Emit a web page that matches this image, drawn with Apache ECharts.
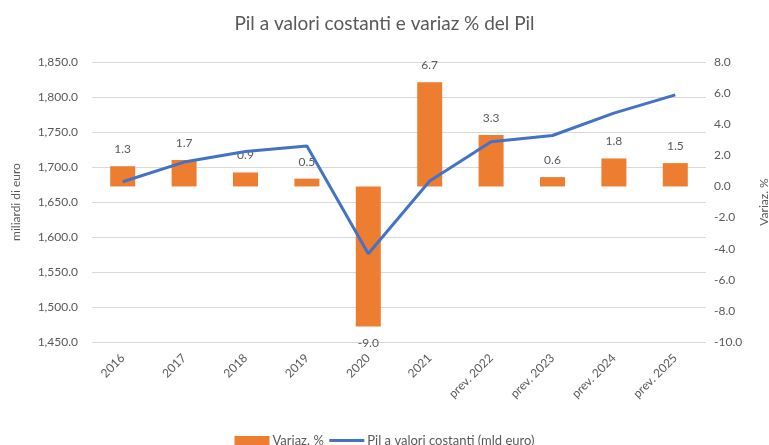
<!DOCTYPE html>
<html>
<head>
<meta charset="utf-8">
<script src="https://cdn.jsdelivr.net/npm/echarts@6/dist/echarts.min.js"></script>
<style>
  html, body { margin: 0; padding: 0; background: #fff; }
  #chart { width: 769px; height: 445px; }
</style>
</head>
<body>
<div id="chart"></div>
<script>
var categories = ['2016', '2017', '2018', '2019', '2020', '2021', 'prev. 2022', 'prev. 2023', 'prev. 2024', 'prev. 2025'];
var variazione = [1.3, 1.7, 0.9, 0.5, -9.0, 6.7, 3.3, 0.6, 1.8, 1.5];
var pilCostanti = [1679, 1707, 1722, 1730, 1576, 1680, 1736, 1745, 1777, 1803];

var ink = '#595959';
var orange = '#ED7D31';
var blue = '#4472C4';
var font = 'Lato';

var chart = echarts.init(document.getElementById('chart'), null, { renderer: 'canvas' });
chart.setOption({
  animation: false,
  textStyle: { fontFamily: font, color: ink },
  title: {
    text: 'Pil a valori costanti e variaz % del Pil',
    left: 'center',
    top: 9,
    textStyle: { fontFamily: font, fontSize: 19, fontWeight: 'normal', color: ink }
  },
  legend: {
    top: 429,
    left: 'center',
    itemGap: 4,
    itemWidth: 35,
    itemHeight: 9,
    textStyle: { fontFamily: font, fontSize: 13, color: ink, padding: [0, 0, 0, -2] },
    data: [
      { name: 'Variaz. %', icon: 'rect' },
      { name: 'Pil a valori costanti (mld euro)', itemStyle: { opacity: 0 }, lineStyle: { width: 3 } }
    ]
  },
  grid: { left: 92, right: 63, top: 62, bottom: 103, outerBoundsMode: 'none' },
  xAxis: {
    type: 'category',
    data: categories,
    axisLine: { show: false },
    axisTick: { show: false },
    axisLabel: { rotate: 45, fontSize: 12, color: ink, fontFamily: font, margin: 14 }
  },
  yAxis: [
    {
      type: 'value',
      min: 1450, max: 1850, interval: 50,
      name: 'miliardi di euro',
      nameLocation: 'middle',
      nameRotate: 90,
      nameGap: 70,
      nameTextStyle: { fontSize: 12, color: ink, fontFamily: font },
      axisLine: { show: false },
      axisTick: { show: false },
      axisLabel: {
        fontSize: 12, color: ink, margin: 14,
        formatter: function (v) { return v.toLocaleString('en-US', { minimumFractionDigits: 1, maximumFractionDigits: 1 }); }
      },
      splitLine: { lineStyle: { color: '#d9d9d9', width: 1 } }
    },
    {
      type: 'value',
      min: -10, max: 8, interval: 2,
      name: 'Variaz. %',
      nameLocation: 'middle',
      nameRotate: 90,
      nameGap: 52,
      nameTextStyle: { fontSize: 12, color: ink, fontFamily: font },
      axisLine: { show: false },
      axisTick: { show: false },
      axisLabel: {
        fontSize: 12, color: ink, margin: 8,
        formatter: function (v) { return v.toFixed(1); }
      },
      splitLine: { show: false }
    }
  ],
  series: [
    {
      name: 'Variaz. %',
      type: 'bar',
      yAxisIndex: 1,
      data: variazione.map(function (v) {
        return { value: v, label: { position: v < 0 ? 'bottom' : 'top' } };
      }),
      barWidth: 25,
      itemStyle: { color: orange },
      label: {
        show: true,
        distance: 11,
        fontSize: 12,
        color: ink,
        fontFamily: font,
        formatter: function (p) { return p.value.toFixed(1); }
      },
      z: 2
    },
    {
      name: 'Pil a valori costanti (mld euro)',
      type: 'line',
      yAxisIndex: 0,
      data: pilCostanti,
      symbol: 'none',
      lineStyle: { color: blue, width: 3 },
      itemStyle: { color: blue },
      z: 3
    }
  ]
});
</script>
</body>
</html>
